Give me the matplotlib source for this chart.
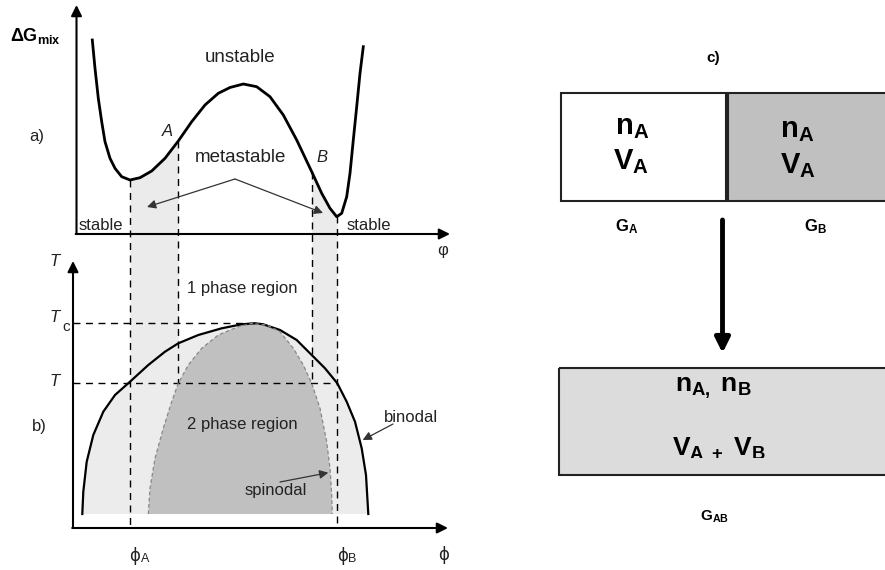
import numpy as np
import matplotlib
matplotlib.use('Agg')
from matplotlib import pyplot as plt
from matplotlib.patches import Rectangle

plt.rcParams['font.family'] = ['Liberation Sans', 'DejaVu Sans']
plt.rcParams['mathtext.fontset'] = 'custom'
plt.rcParams['mathtext.rm'] = 'Liberation Sans'
plt.rcParams['mathtext.bf'] = 'Liberation Sans:bold'
plt.rcParams['mathtext.it'] = 'Liberation Sans:italic'

# free energy of mixing curve, panel a (picture pixels)
gx = [92.3, 95, 98.3, 101.7, 105, 110, 115, 121.7, 130, 140, 151.7, 165, 178.3, 191.7,
      205, 218.3, 230, 243.3, 256.7, 270, 283.3, 296.7, 311.7, 321.7, 330, 336.7,
      341.7, 346.7, 350, 353.3, 356.7, 360, 363.3]
gy = [40, 68.3, 98.3, 121.7, 141.7, 158.3, 168.3, 176.7, 180, 177.7, 171, 158.3, 141, 121.7,
      105, 93.3, 87.5, 84, 86.7, 96.7, 115, 140, 171.7, 193.3, 208.3, 216.7,
      213.3, 196.7, 173.3, 140, 106.7, 73.3, 46.7]

# binodal and spinodal, panel b
bin_x = [82.3, 83.3, 86.7, 93.3, 103.3, 115, 130, 148.3, 165, 178.3, 198.3, 221.7, 241.7,
         255, 263.3, 280, 296.7, 311.7, 325, 337.3, 346.7, 355, 361.7, 366, 368.3]
bin_y = [514, 491.7, 461.7, 435, 411.7, 395, 381.7, 365, 351.7, 343.3, 335, 328.3, 324.3,
         323.3, 324.3, 330, 340, 355, 368.3, 383.3, 401.7, 421.7, 448.3, 475, 514]
spin_x = [148.3, 150, 155, 163.3, 171.7, 178.3, 188.3, 201.7, 218.3, 238.3, 251.7, 266.7,
          280, 293.3, 303.3, 311.7, 320, 326.7, 330, 331.7, 332.3]
spin_y = [514, 488.3, 458.3, 428.3, 401.7, 383.3, 365, 348.3, 335, 326.7, 323.5, 325,
          331.7, 348.3, 365, 383.3, 408.3, 441.7, 468.3, 495, 514]

phi_binodal = [130, 337.3]     # phi_A, phi_B
phi_spinodal = [178.3, 311.7]  # A, B
T_c = 323.3
T_level = 383.3

fig = plt.figure(figsize=(8.85, 5.70), dpi=100)
ax = fig.add_axes([0, 0, 1, 1])
ax.set_xlim(0, 885)
ax.set_ylim(570, 0)
ax.axis('off')

txt = '#222222'
band = '#ebebeb'

# shaded bands between binodal and spinodal compositions
for x0, x1 in [(phi_binodal[0], phi_spinodal[0]), (phi_spinodal[1], phi_binodal[1])]:
    xs = np.linspace(x0, x1, 40)
    ax.fill_between(xs, np.interp(xs, gx, gy), T_level, color=band, lw=0, zorder=1)

ax.fill(bin_x, bin_y, color='#ececec', lw=0, zorder=1)
ax.fill(spin_x, spin_y, color='#c0c0c0', lw=0, zorder=2)
ax.plot(bin_x, bin_y, color='black', lw=1.6, zorder=4)
ax.plot(spin_x, spin_y, color='#888888', lw=0.9, ls=(0, (3, 2)), zorder=4)
ax.plot(gx, gy, color='black', lw=2, zorder=4, solid_joinstyle='round')

# dashed guides
dash = dict(color='black', lw=1, ls=(0, (5, 4)), zorder=3)
ax.plot([phi_binodal[0]] * 2, [np.interp(phi_binodal[0], gx, gy), 528], **dash)
ax.plot([phi_binodal[1]] * 2, [np.interp(phi_binodal[1], gx, gy), 528], **dash)
ax.plot([phi_spinodal[0]] * 2, [np.interp(phi_spinodal[0], gx, gy), T_level], **dash)
ax.plot([phi_spinodal[1]] * 2, [np.interp(phi_spinodal[1], gx, gy), T_level], **dash)
ax.plot([73, 258], [T_c, T_c], **dash)
ax.plot([73, phi_binodal[1]], [T_level, T_level], **dash)

# axes with arrows
axarrow = dict(arrowstyle='-|>', lw=1.5, color='black', mutation_scale=16, shrinkA=0, shrinkB=0)
ax.annotate('', xy=(76.5, 5), xytext=(76.5, 234), arrowprops=axarrow)
ax.annotate('', xy=(450, 234), xytext=(75.7, 234), arrowprops=axarrow)
ax.annotate('', xy=(73, 261), xytext=(73, 528), arrowprops=axarrow)
ax.annotate('', xy=(448, 528), xytext=(72.2, 528), arrowprops=axarrow)

# labels panel a
ax.text(10, 36, r'$\mathbf{ΔG_{mix}}$', fontsize=13, color='black', ha='left', va='center')
ax.text(37, 136, 'a)', fontsize=12, color=txt, ha='center', va='center')
ax.text(240, 58, 'unstable', fontsize=13.5, color=txt, ha='center', va='center')
ax.text(240, 157, 'metastable', fontsize=13.5, color=txt, ha='center', va='center')
ax.text(167, 131, 'A', fontsize=12, style='italic', color=txt, ha='center', va='center')
ax.text(322, 157, 'B', fontsize=12, style='italic', color=txt, ha='center', va='center')
ax.text(101, 225, 'stable', fontsize=12, color=txt, ha='center', va='center')
ax.text(369, 225, 'stable', fontsize=12, color=txt, ha='center', va='center')
ax.text(443, 250, 'φ', fontsize=12, color=txt, ha='center', va='center')
thin = dict(arrowstyle='-|>', lw=0.9, color='#333333', mutation_scale=13, shrinkA=0, shrinkB=0)
ax.annotate('', xy=(147, 207), xytext=(235, 179), arrowprops=thin)
ax.annotate('', xy=(323, 213), xytext=(235, 179), arrowprops=thin)

# labels panel b
ax.text(55, 261, 'T', fontsize=12, style='italic', color=txt, ha='center', va='center')
ax.text(55, 318, 'T', fontsize=12, style='italic', color=txt, ha='center', va='center')
ax.text(66, 327, 'c', fontsize=11, color=txt, ha='center', va='center')
ax.text(55, 382, 'T', fontsize=12, style='italic', color=txt, ha='center', va='center')
ax.text(39, 427, 'b)', fontsize=12, color=txt, ha='center', va='center')
ax.text(242, 289, '1 phase region', fontsize=12, color=txt, ha='center', va='center')
ax.text(242, 425, '2 phase region', fontsize=12, color=txt, ha='center', va='center')
ax.text(411, 417, 'binodal', fontsize=12, color=txt, ha='center', va='center')
ax.text(276, 491, 'spinodal', fontsize=12, color=txt, ha='center', va='center')
ax.annotate('', xy=(362.7, 440), xytext=(393, 424), arrowprops=thin)
ax.annotate('', xy=(328.3, 472.7), xytext=(280, 482), arrowprops=thin)
for xp, sub in zip(phi_binodal, ['A', 'B']):
    ax.text(xp + 5, 556, 'ϕ', fontsize=12, color=txt, ha='center', va='center',
            family=['DejaVu Sans'])
    ax.text(xp + 15, 559, sub, fontsize=9, color=txt, ha='center', va='center')
ax.text(444, 555, 'ϕ', fontsize=12, color=txt, ha='center', va='center', family=['DejaVu Sans'])

# panel c
ax.text(713, 58, 'c)', fontsize=11, fontweight='bold', color='black', ha='center', va='center')
ax.add_patch(Rectangle((561, 93), 165, 108, facecolor='white', edgecolor='#222222', lw=1.5))
ax.add_patch(Rectangle((728, 93), 170, 108, facecolor='#c0c0c0', edgecolor='#222222', lw=1.5))
ax.text(632, 127, r'$\mathbf{n_A}$', fontsize=21, ha='center', va='center')
ax.text(631, 162, r'$\mathbf{V_A}$', fontsize=21, ha='center', va='center')
ax.text(797, 130, r'$\mathbf{n_A}$', fontsize=21, ha='center', va='center')
ax.text(798, 166, r'$\mathbf{V_A}$', fontsize=21, ha='center', va='center')
ax.text(627, 227, r'$\mathbf{G_A}$', fontsize=12, ha='center', va='center')
ax.text(815, 227, r'$\mathbf{G_B}$', fontsize=12, ha='center', va='center')
ax.annotate('', xy=(722.5, 353), xytext=(722.5, 220),
            arrowprops=dict(arrowstyle='-|>', lw=3.5, color='black', mutation_scale=22,
                            shrinkA=0, shrinkB=0))
ax.add_patch(Rectangle((559, 368), 340, 107, facecolor='#dcdcdc', lw=0, zorder=1))
ax.text(713, 388, r'$\mathbf{n_{A,}\ n_B}$', fontsize=19, ha='center', va='center', zorder=2)
ax.text(719, 449, r'$\mathbf{V_{A\ +}\ V_B}$', fontsize=19, ha='center', va='center', zorder=2)
# the bottom of the second line is cut off in the original
ax.add_patch(Rectangle((600, 458), 250, 16, facecolor='#dcdcdc', lw=0, zorder=3))
ax.add_patch(Rectangle((559, 368), 340, 107, facecolor='none', edgecolor='#222222', lw=1.5,
                       zorder=4))
ax.text(714, 517, r'$\mathbf{G_{AB}}$', fontsize=11, ha='center', va='center')

fig.savefig('out.png', dpi=100)
